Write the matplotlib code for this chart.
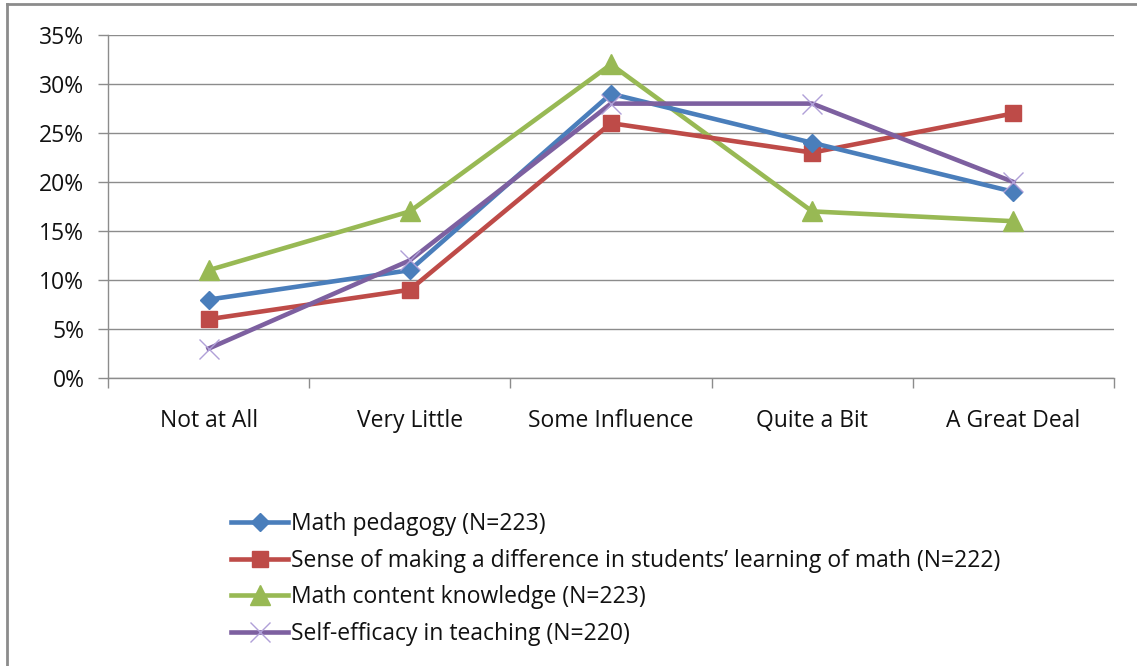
import matplotlib.pyplot as plt
import numpy as np
from matplotlib.lines import Line2D

# categories and series values (fractions)
categories = ['Not at All', 'Very Little', 'Some Influence', 'Quite a Bit', 'A Great Deal']
pedagogy = [0.08, 0.11, 0.29, 0.24, 0.19]
difference = [0.06, 0.09, 0.26, 0.23, 0.27]
content = [0.11, 0.17, 0.32, 0.17, 0.16]
efficacy = [0.03, 0.12, 0.28, 0.28, 0.20]
series_labels = ['Math pedagogy (N=223)',
                 'Sense of making a difference in students\u2019 learning of math (N=222)',
                 'Math content knowledge (N=223)',
                 'Self-efficacy in teaching (N=220)']
y_ticks = [0, 0.05, 0.10, 0.15, 0.20, 0.25, 0.30, 0.35]

plt.rcParams['font.family'] = ['Open Sans', 'DejaVu Sans']
fs = 16.5
txt = '#111111'

W, H = 1137, 666
fig = plt.figure(figsize=(W / 100, H / 100), dpi=100)

# outer chart frame (left and top visible)
fig.add_artist(Line2D([7 / W, 7 / W], [0, 1 - 4 / H], color='#8c8c8c', lw=2))
fig.add_artist(Line2D([7 / W, 1], [1 - 4 / H, 1 - 4 / H], color='#8c8c8c', lw=2))

ax = fig.add_axes([108 / W, 1 - 378 / H, (1114 - 108) / W, (378 - 35) / H])
x = np.arange(1, len(categories) + 1)

ax.plot(x, pedagogy, color='#4a7ebb', lw=3.3, marker='D', ms=9,
        label=series_labels[0], zorder=4)
ax.plot(x, difference, color='#be4b48', lw=3.3, marker='s', ms=12,
        label=series_labels[1], zorder=3)
ax.plot(x, content, color='#98b954', lw=3.3, marker='^', ms=14,
        label=series_labels[2], zorder=2)
ax.plot(x, efficacy, color='#7d60a0', lw=3.3, marker='x', ms=14, mew=1,
        mec='#b0a0d8', label=series_labels[3], zorder=5)

ax.set_xlim(0.5, len(categories) + 0.5)
ax.set_ylim(0, 0.35)
ax.set_yticks(y_ticks)
ax.set_yticklabels(['%d%%' % round(v * 100) for v in y_ticks], fontsize=fs, color=txt)
ax.set_xticks(x)
ax.set_xticklabels(categories, fontsize=fs, color=txt)
ax.set_xticks(np.arange(0.5, len(categories) + 1, 1), minor=True)
ax.tick_params(axis='x', which='major', length=0, pad=22)
ax.tick_params(axis='x', which='minor', length=7, color='#8c8c8c', width=1)
ax.tick_params(axis='y', length=7, color='#8c8c8c', width=1, pad=10)

ax.grid(axis='y', color='#8c8c8c', lw=1)
ax.set_axisbelow(True)
for side in ['top', 'right']:
    ax.spines[side].set_visible(False)
for side in ['left', 'bottom']:
    ax.spines[side].set_color('#8c8c8c')
    ax.spines[side].set_linewidth(1)

handles, labels = ax.get_legend_handles_labels()
leg = fig.legend(handles, labels, loc='upper left', bbox_to_anchor=(231 / W, 1 - 512 / H),
                 frameon=False, fontsize=fs, handlelength=2.5, handletextpad=0.12,
                 labelspacing=0.55, borderaxespad=0, borderpad=0)
for t in leg.get_texts():
    t.set_color(txt)

fig.savefig('out.png', dpi=100)
